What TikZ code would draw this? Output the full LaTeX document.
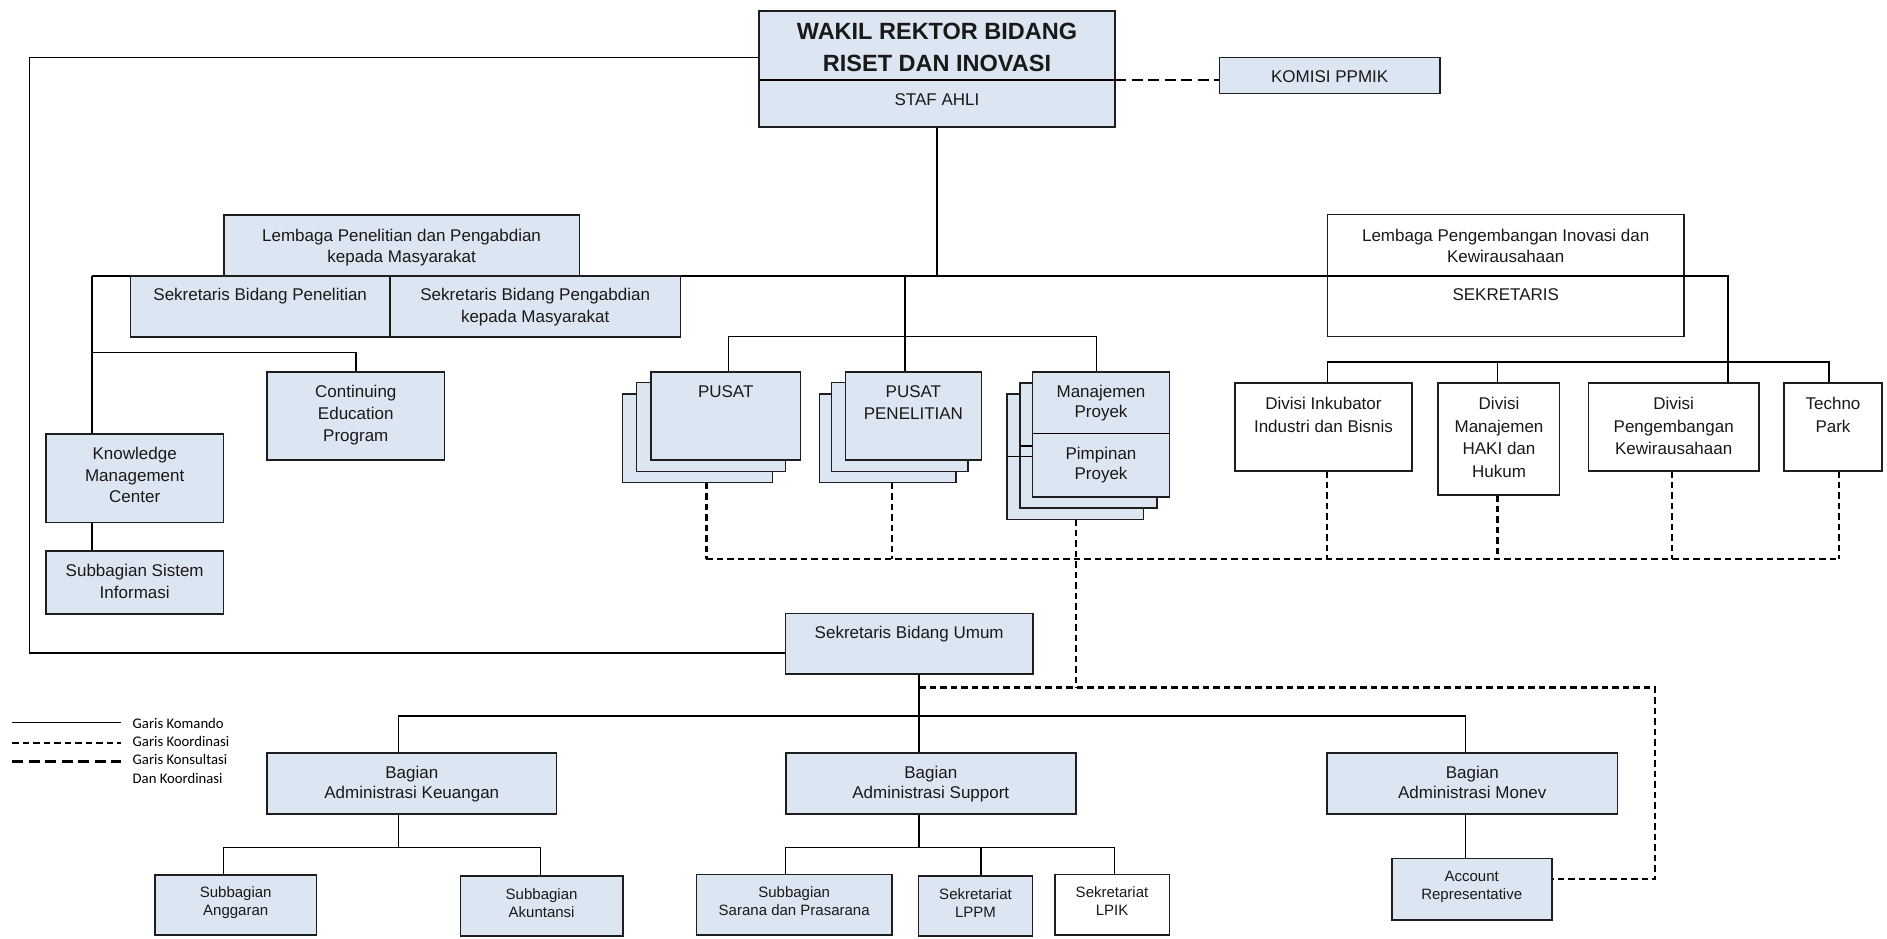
\documentclass[tikz,border=0pt]{standalone}
\usepackage{fontspec}
\setmainfont{Liberation Sans}
\newfontfamily\legfont{Carlito}
\usetikzlibrary{backgrounds}
\definecolor{boxblue}{RGB}{220,230,242}
\definecolor{edge}{RGB}{30,30,30}
\newcommand{\bx}[6]{%
  \pgfmathsetmacro{\bxcx}{(#2+#4)/2}%
  \pgfmathsetmacro{\bxcy}{(#3+#5)/2}%
  \pgfmathsetmacro{\bxw}{#4-#2}%
  \pgfmathsetmacro{\bxh}{#5-#3}%
  \node[#6, minimum width=\bxw pt, minimum height=\bxh pt] (#1) at (\bxcx,\bxcy) {};}
\begin{document}
\begin{tikzpicture}[x=1pt,y=-1pt,
  bbox/.style={draw=edge, line width=1.6pt, fill=boxblue, inner sep=0pt, outer sep=0pt, rectangle},
  wbox/.style={bbox, fill=white},
  txt/.style={inner sep=0pt, outer sep=0pt, align=center, anchor=north, text=black!90},
  tbig/.style={txt, font={\fontsize{23.5}{31.6}\selectfont\bfseries}},
  tn/.style={txt, font={\fontsize{17}{21.7}\selectfont}},
  tnb/.style={txt, font={\fontsize{17}{20}\selectfont}},
  tnc/.style={txt, font={\fontsize{17}{22.6}\selectfont}},
  ts/.style={txt, font={\fontsize{15}{17.6}\selectfont}},
  leg/.style={inner sep=0pt, outer sep=0pt, align=left, anchor=north west, font={\legfont\fontsize{14.7}{18.6}\selectfont}},
  cmd/.style={line width=1.5pt, draw=black},
  koord/.style={line width=2.2pt, draw=black, dash pattern=on 6.5pt off 4pt},
  kons/.style={line width=2.6pt, draw=black, dash pattern=on 11pt off 5.5pt},
]
\useasboundingbox (0,0) rectangle (1887,938);

% ---------- boxes ----------
\bx{wakil}{759}{10.7}{1115}{126.7}{bbox}
\bx{komisi}{1219.5}{57.3}{1440}{93.3}{bbox}
\bx{lppm}{224}{214.7}{579.3}{276}{bbox}
\bx{sbp}{130.4}{276}{390}{336.7}{bbox}
\bx{sbpm}{390}{276}{680.3}{336.7}{bbox}
\bx{lpik}{1327.5}{214.3}{1684}{336.3}{wbox}
\bx{cep}{267}{371.7}{444.6}{460}{bbox}
\bx{kmc}{46}{434}{223.5}{522.3}{bbox}
\bx{ssi}{46}{550.7}{223.5}{613.7}{bbox}
% PUSAT stack
\bx{pusat3}{622.6}{394}{772.4}{482.5}{bbox}
\bx{pusat2}{636.5}{382.5}{785.6}{471.3}{bbox}
\bx{pusat}{651}{371.7}{800.4}{460}{bbox}
% PUSAT PENELITIAN stack
\bx{ppen3}{819.3}{394}{956}{482.5}{bbox}
\bx{ppen2}{831.5}{382.5}{968.2}{471.3}{bbox}
\bx{ppen}{845.3}{371.7}{981.5}{460}{bbox}
% Manajemen stack
\bx{manaj3}{1007.2}{394}{1143.4}{519.3}{bbox}
\bx{manaj2}{1020.2}{382.7}{1156.8}{507.7}{bbox}
\bx{manaj}{1032.6}{371.7}{1169.5}{496.7}{bbox}
% Divisi
\bx{ink}{1234.7}{382.7}{1412.2}{471}{wbox}
\bx{haki}{1438.2}{382.7}{1559.6}{495}{wbox}
\bx{peng}{1588.6}{382.7}{1758.8}{471}{wbox}
\bx{techno}{1784.2}{382.7}{1882}{471}{wbox}
% lower part
\bx{sbu}{785.5}{613.5}{1033}{674}{bbox}
\bx{bk}{267}{752.7}{556.6}{814}{bbox}
\bx{bs}{785.7}{752.7}{1075.9}{814}{bbox}
\bx{bm}{1327}{752.7}{1617.5}{814}{bbox}
\bx{sa}{154.9}{875}{316.6}{935}{bbox}
\bx{sak}{460.5}{876}{622.8}{936}{bbox}
\bx{ssp}{696.3}{874.3}{892.2}{935}{bbox}
\bx{slppm}{918.6}{876}{1032.4}{936}{bbox}
\bx{slpik}{1054.7}{874.3}{1169.5}{935}{wbox}
\bx{ar}{1391.7}{858.3}{1551.7}{920}{bbox}

% ---------- dividers inside boxes ----------
\coordinate (dWak) at (900,80);
\draw[cmd] (wakil.west |- dWak) -- (wakil.east |- dWak);
\coordinate (dLpik) at (1500,276);
\draw[cmd] (lpik.west |- dLpik) -- (lpik.east |- dLpik);
\draw[cmd] (manaj3.west |- 0,456.7) -- (manaj3.east |- 0,456.7);
\draw[cmd] (manaj2.west |- 0,446) -- (manaj2.east |- 0,446);
\fill[boxblue] ([shift={(0.8pt,-0.8pt)}]manaj.south west) rectangle ([shift={(-0.8pt,0.8pt)}]manaj.north east);
\draw[draw=edge, line width=1.6pt] (manaj.south west) rectangle (manaj.north east);
\draw[cmd] (manaj.west |- 0,433.7) -- (manaj.east |- 0,433.7);

% ---------- texts ----------
\node[tbig] (t-wakil) at (937,23.3) {WAKIL REKTOR BIDANG\\RISET DAN INOVASI};
\node[tn] (t-staf) at (937,93.9) {STAF AHLI};
\node[tn] (t-komisi) at (1329.7,70.4) {KOMISI PPMIK};
\node[tn] (t-lppm) at (401.6,228.9) {Lembaga Penelitian dan Pengabdian\\kepada Masyarakat};
\node[tn] (t-sbp) at (260.2,288.6) {Sekretaris Bidang Penelitian};
\node[tn] (t-sbpm) at (535.2,288.6) {Sekretaris Bidang Pengabdian\\kepada Masyarakat};
\node[tn] (t-lpik) at (1505.7,228.9) {Lembaga Pengembangan Inovasi dan\\Kewirausahaan};
\node[tn] (t-sekr) at (1505.7,288.9) {SEKRETARIS};
\node[tn] (t-cep) at (355.8,385.6) {Continuing\\Education\\Program};
\node[tn] (t-kmc) at (134.7,447.2) {Knowledge\\Management\\Center};
\node[tn] (t-ssi) at (134.7,564.6) {Subbagian Sistem\\Informasi};
\node[tn] (t-pusat) at (725.7,385.2) {PUSAT};
\node[tnc] (t-ppen) at (913.4,385.2) {PUSAT\\PENELITIAN};
\node[tnb] (t-manaj) at (1101,385.6) {Manajemen\\Proyek};
\node[tnb] (t-pimp) at (1101,447.2) {Pimpinan\\Proyek};
\node[tnc] (t-ink) at (1323.5,397.2) {Divisi Inkubator\\Industri dan Bisnis};
\node[tnc] (t-haki) at (1499,397.2) {Divisi\\Manajemen\\HAKI dan\\Hukum};
\node[tnc] (t-peng) at (1673.7,397.2) {Divisi\\Pengembangan\\Kewirausahaan};
\node[tnc] (t-techno) at (1833,397.2) {Techno\\Park};
\node[tn] (t-sbu) at (909.2,626.6) {Sekretaris Bidang Umum};
\node[tnb] (t-bk) at (411.8,766.6) {Bagian\\Administrasi Keuangan};
\node[tnb] (t-bs) at (930.8,766.6) {Bagian\\Administrasi Support};
\node[tnb] (t-bm) at (1472.3,766.6) {Bagian\\Administrasi Monev};
\node[ts] (t-sa) at (235.7,886.9) {Subbagian\\Anggaran};
\node[ts] (t-sak) at (541.6,888.9) {Subbagian\\Akuntansi};
\node[ts] (t-ssp) at (794.2,886.9) {Subbagian\\Sarana dan Prasarana};
\node[ts] (t-slppm) at (975.5,888.9) {Sekretariat\\LPPM};
\node[ts] (t-slpik) at (1112,886.9) {Sekretariat\\LPIK};
\node[ts] (t-ar) at (1471.7,871.3) {Account\\Representative};

% ---------- legend ----------
\coordinate (lg1a) at (12.3,722.7); \coordinate (lg1b) at (120.7,722.7);
\coordinate (lg2a) at (12.3,742.7); \coordinate (lg2b) at (120.7,742.7);
\coordinate (lg3a) at (12.3,761.7); \coordinate (lg3b) at (120.7,761.7);
\draw[cmd] (lg1a) -- (lg1b);
\draw[koord] (lg2a) -- (lg2b);
\draw[kons] (lg3a) -- (lg3b);
\node[leg] (l-kom) at (132.7,718) {Garis Komando};
\node[leg] (l-koo) at (132.7,736) {Garis Koordinasi};
\node[leg] (l-kon) at (132.7,754.3) {Garis Konsultasi\\Dan Koordinasi};

% ---------- connectors ----------
\begin{scope}[on background layer]
% command lines
\coordinate (jTop) at (29.4,57.7);
\coordinate (jBot) at (29.4,653);
\draw[cmd] (wakil.west |- jTop) -- (jTop) -- (jBot) -- (sbu.west |- jBot);
\coordinate (jTrunk) at (937,276);
\draw[cmd] (wakil.south) -- (jTrunk);
\coordinate (jLeft) at (92,276);
\coordinate (jRight) at (1728,276);
\draw[cmd] (jLeft) -- (jRight) -- (peng.north -| jRight);
\draw[cmd] (jLeft) -- (kmc.north -| jLeft);
\coordinate (jCep) at (92,352.7);
\draw[cmd] (jCep) -- (jCep -| cep.north) -- (cep.north);
\draw[cmd] (kmc.south -| jLeft) -- (ssi.north -| jLeft);
\coordinate (jPP) at (905,276);
\draw[cmd] (jPP) -- (ppen.north -| jPP);
\coordinate (jPH1) at (728.7,336.7);
\coordinate (jPH2) at (1096.6,336.7);
\draw[cmd] (pusat.north -| jPH1) -- (jPH1) -- (jPH2) -- (manaj.north -| jPH2);
\coordinate (dv1) at (1327.7,362);
\coordinate (dv2) at (1497.4,362);
\coordinate (dv4) at (1828.9,362);
\draw[cmd] (ink.north -| dv1) -- (dv1) -- (dv4) -- (techno.north -| dv4);
\draw[cmd] (dv2) -- (haki.north -| dv2);
% lower command lines
\coordinate (jS) at (919,716);
\draw[cmd] (sbu.south -| jS) -- (bs.north -| jS);
\coordinate (jB1) at (398.6,716);
\coordinate (jB3) at (1465.4,716);
\draw[cmd] (bk.north -| jB1) -- (jB1) -- (jB3) -- (bm.north -| jB3);
\draw[cmd] (bm.south -| jB3) -- (ar.north -| jB3);
\coordinate (jK) at (398.6,847.3);
\coordinate (jK1) at (223.5,847.3);
\coordinate (jK2) at (540.7,847.3);
\draw[cmd] (bk.south -| jK) -- (jK);
\draw[cmd] (sa.north -| jK1) -- (jK1) -- (jK2) -- (sak.north -| jK2);
\coordinate (jSu) at (919,847.3);
\coordinate (jSu1) at (785.7,847.3);
\coordinate (jSu2) at (981,847.3);
\coordinate (jSu3) at (1114.5,847.3);
\draw[cmd] (bs.south -| jSu) -- (jSu);
\draw[cmd] (ssp.north -| jSu1) -- (jSu1) -- (jSu3) -- (slpik.north -| jSu3);
\draw[cmd] (jSu2) -- (slppm.north -| jSu2);
% consultation line
\draw[kons] (wakil.east |- dWak) -- (komisi.west |- dWak);
% coordination lines
\coordinate (c1) at (706.4,559.3);
\coordinate (c2) at (892,559.3);
\coordinate (c3) at (1075.9,559.3);
\coordinate (c4) at (1327,559.3);
\coordinate (c5) at (1497.4,559.3);
\coordinate (c6) at (1671.9,559.3);
\coordinate (c7) at (1838.6,559.3);
\draw[koord] (c1) -- (c7);
\draw[koord] (pusat3.south -| c1) -- (c1);
\draw[koord] (ppen3.south -| c2) -- (c2);
\draw[koord] (ink.south -| c4) -- (c4);
\draw[koord] (haki.south -| c5) -- (c5);
\draw[koord] (peng.south -| c6) -- (c6);
\draw[koord] (techno.south -| c7) -- (c7);
\coordinate (d1) at (919,687.5);
\coordinate (d2) at (1655,687.5);
\coordinate (d3) at (1655,879);
\draw[koord] (manaj3.south -| c3) -- (d1 -| c3);
\draw[koord] (d1) -- (d2) -- (d3) -- (ar.east |- d3);
\end{scope}
\end{tikzpicture}
\end{document}
